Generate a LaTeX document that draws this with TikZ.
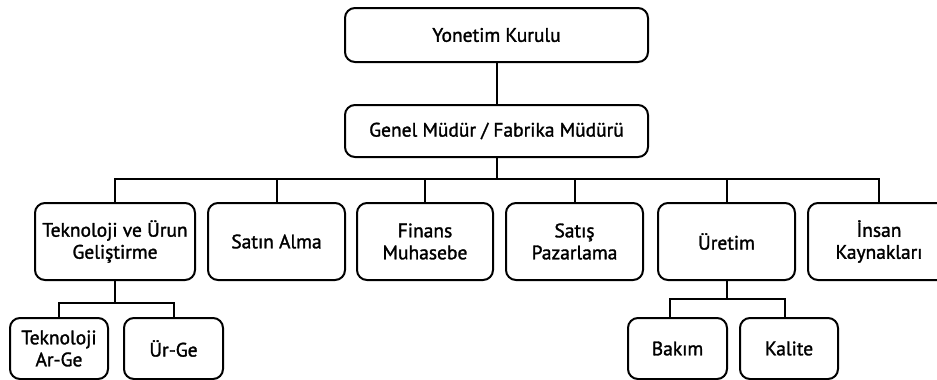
\documentclass[tikz,border=0pt]{standalone}
\usepackage{fontspec}
\setmainfont{PT Sans}[FakeBold=1.5, UprightFeatures={FakeBold=1.5}]
\begin{document}
\begin{tikzpicture}[x=1pt,y=-1pt,
  box/.style={draw=black, line width=2pt, rounded corners=10pt, fill=white,
    align=center, inner sep=1pt, font=\fontsize{19.5}{22}\selectfont},
  wire/.style={draw=black, line width=2pt}]
\useasboundingbox (0,0) rectangle (937,380);

% board and general manager
\node[box, minimum width=303pt, minimum height=54pt] (yk) at (496.5,35) {Yonetim Kurulu};
\node[box, minimum width=303pt, minimum height=52pt] (gm) at (496.5,131) {Genel Müdür / Fabrika Müdürü};

% departments
\foreach \n/\x/\w/\t in {
  tek/115/160/{Teknoloji ve Ürun\\Geliştirme},
  satin/276.5/137/{Satın Alma},
  finans/425/136/{Finans\\Muhasebe},
  satis/574.5/137/{Satış\\Pazarlama},
  uretim/726.5/137/{Üretim},
  insan/879/142/{İnsan\\Kaynakları}}
  \node[box, minimum width=\w pt, minimum height=77pt] (\n) at (\x,241.5) {\t};

% sub-units
\node[box, minimum width=98pt, minimum height=61pt] (arge) at (59,348.5) {Teknoloji\\Ar-Ge};
\node[box, minimum width=99pt, minimum height=61pt] (urge) at (173.5,348.5) {Ür-Ge};
\node[box, minimum width=99pt, minimum height=61pt] (bakim) at (677.5,348.5) {Bakım};
\node[box, minimum width=98pt, minimum height=61pt] (kalite) at (789,348.5) {Kalite};

% connectors
\draw[wire] (yk.south) -- (gm.south |- gm.north);
\foreach \c in {tek,satin,finans,satis,uretim,insan}
  \draw[wire] (gm.south) -- ++(0,21) -| (\c.north);
\draw[wire] (tek.south) -- ++(0,22) -| (arge.north);
\draw[wire] (tek.south) -- ++(0,22) -| (urge.north);
\draw[wire] (uretim.south) -- ++(0,18) -| ([xshift=-7.5pt]bakim.north);
\draw[wire] (uretim.south) -- ++(0,18) -| ([xshift=-4pt]kalite.north);
\end{tikzpicture}
\end{document}
